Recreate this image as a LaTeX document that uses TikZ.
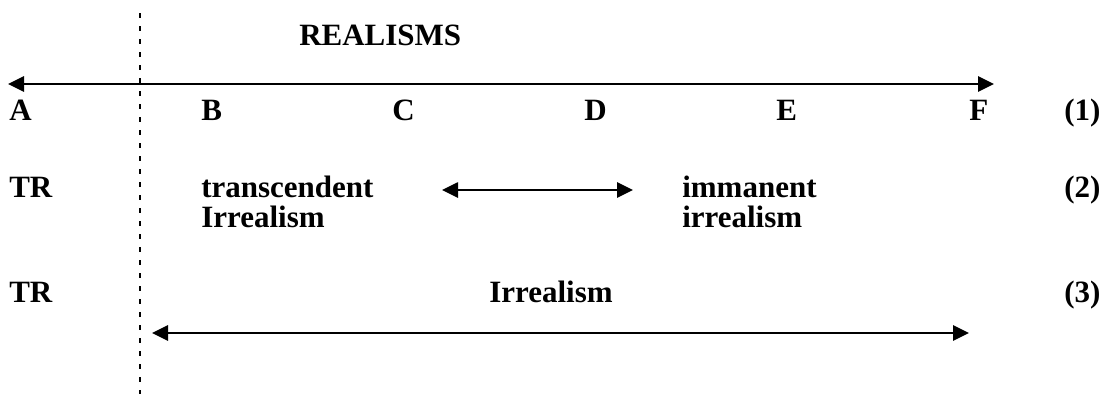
\documentclass[tikz,border=0pt]{standalone}
\usepackage{fontspec}
\setmainfont{Liberation Serif}
\usetikzlibrary{arrows.meta}
\begin{document}
\begin{tikzpicture}[x=0.75pt,y=-0.75pt,
  lab/.style={anchor=base west,inner sep=0pt,font=\fontsize{23.25}{30}\selectfont\bfseries},
  twoline/.style={lab,anchor=north west,align=left,text depth=0pt},
  conn/.style={line width=1.3pt,{Triangle[length=12pt,width=11.5pt]}-{Triangle[length=12pt,width=11.5pt]}},
  sep/.style={line width=1.1pt,dash pattern=on 3.75pt off 6pt}]
\useasboundingbox (0,0) rectangle (1106,394);
% separator
\coordinate (septop) at (140,13);
\coordinate (sepbot) at (140,394);
\draw[sep] (septop) -- (sepbot);
% title
\node[lab] (title) at (299,45) {REALISMS};
% top arrow
\coordinate (a1l) at (8,84);
\coordinate (a1r) at (994,84);
\draw[conn] (a1l) -- (a1r);
% row 1
\node[lab] (A) at (9,120) {A};
\node[lab] (B) at (201,120) {B};
\node[lab] (C) at (392,120) {C};
\node[lab] (D) at (584,120) {D};
\node[lab] (E) at (776,120) {E};
\node[lab] (F) at (969,120) {F};
\node[lab] (n1) at (1064,120) {(1)};
% row 2
\node[lab] (TR2) at (9,197) {TR};
\node[lab] (trans) at (201,197) {transcendent};
\node[lab] (irr1) at (201,227) {Irrealism};
\node[lab] (imm) at (682,197) {immanent};
\node[lab] (irr2) at (682,227) {irrealism};
\node[lab] (n2) at (1064,197) {(2)};
\coordinate (a2l) at (442,190);
\coordinate (a2r) at (633,190);
\draw[conn,line width=1.2pt] (a2l) -- (a2r);
% row 3
\node[lab] (TR3) at (9,302) {TR};
\node[lab] (irr3) at (489,302) {Irrealism};
\node[lab] (n3) at (1064,302) {(3)};
\coordinate (a3l) at (152,333);
\coordinate (a3r) at (969,333);
\draw[conn] (a3l) -- (a3r);
\end{tikzpicture}
\end{document}
